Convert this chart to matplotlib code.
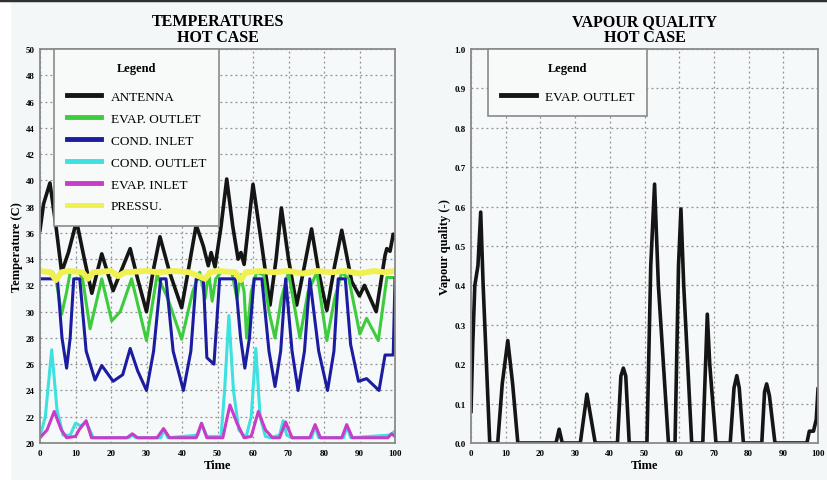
import matplotlib
matplotlib.use("Agg")
import matplotlib.pyplot as plt
from matplotlib.lines import Line2D
from matplotlib.patches import Rectangle
from matplotlib.ticker import MultipleLocator, FormatStrFormatter

# ---- temperatures, hot case (time, value) ----
antenna_t = [0, 1, 2.8, 4.5, 6.1, 8, 10.3, 12.5, 14.6, 17.4, 20.6, 23, 25.4, 27.5, 30, 31.8,
             33.8, 36.5, 39.9, 42, 44, 46, 47.4, 48.2, 49.3, 51, 52.6, 54.3, 55.8, 56.6, 57.5,
             60, 62.5, 64.8, 66.5, 68, 70, 72.3, 74.5, 76.5, 78.5, 80.8, 83, 85, 87.8, 90,
             91.4, 94.7, 97.2, 97.7, 98.6, 99.5, 100]
antenna_v = [36.2, 38.2, 39.8, 36.5, 33.0, 34.5, 36.9, 34.0, 31.4, 34.4, 31.6, 33.2, 34.8, 32.5,
             30.0, 33.0, 35.7, 33.0, 30.3, 33.5, 36.6, 35.0, 33.5, 34.5, 33.4, 36.5, 40.1, 36.5,
             34.0, 34.5, 33.6, 39.7, 35.0, 30.5, 34.0, 37.9, 34.0, 30.5, 33.5, 36.3, 33.0, 30.1,
             33.5, 36.2, 32.3, 31.2, 32.0, 30.0, 34.3, 34.8, 34.6, 35.9, 35.6]

evap_out_t = [0, 3.5, 4.5, 6.1, 7.5, 8.5, 11, 12, 14.1, 17.4, 20.2, 22.6, 25.8, 30, 33, 36,
              39.9, 43, 45, 46.5, 47.5, 48.5, 49.5, 51, 54, 55.5, 56.5, 57.5, 58.2, 59.5, 61,
              63, 64.5, 66.2, 68, 70, 73.2, 75.5, 78, 80.8, 83, 85, 87, 90.1, 92, 95.3, 97.7, 100]
evap_out_v = [33, 33, 32.5, 29.8, 31.5, 33, 33, 32.5, 28.7, 32.5, 29.3, 30.0, 32.5, 27.8, 32.8,
              31, 27.9, 31.5, 33, 31.0, 33, 30.8, 32.5, 33, 33, 31, 32.8, 31.5, 28, 31.5, 33,
              32.8, 30, 28, 31, 33, 28, 31.5, 33, 27.8, 31, 33, 32.5, 28.3, 29.5, 27.8, 32.6, 32.6]

cond_in_t = [0, 4.9, 6.2, 7.5, 8.5, 9.5, 11.2, 13, 15.5, 17.4, 20.6, 23.3, 25.4, 27.5, 30, 32,
             34, 35.5, 37.5, 40.4, 42.5, 44, 46, 47, 49, 50.6, 55, 56.5, 57.7, 59, 60.3, 62.5,
             64.5, 66.2, 67.8, 69.2, 71, 72.7, 74.5, 76, 78.5, 81, 82.8, 84, 86, 87.5, 89.7,
             92, 95.5, 97.2, 99.5, 100]
cond_in_v = [32.5, 32.5, 28, 25.7, 28, 32.5, 32.5, 27, 24.8, 25.9, 24.7, 25.2, 27.2, 25.5, 24.0,
             27, 32.5, 32.5, 27, 24.0, 27, 32.5, 32.5, 26.5, 26.0, 32.5, 32.5, 28, 25.7, 28,
             32.5, 32.5, 27, 24.3, 27, 32.5, 27, 24.0, 27, 32.5, 27, 24.0, 27, 32.5, 32.5, 27.5,
             24.7, 24.9, 24.0, 26.7, 26.7, 32.5]

cond_out_t = [0, 1.5, 3.3, 4.8, 6.5, 8.5, 10, 11.5, 13, 15, 25, 26, 27, 34, 35, 36, 44.5, 45.5,
              47, 51, 52, 53.2, 54.5, 56, 58, 59.5, 60.8, 62, 63.5, 65, 67.5, 68.5, 69.5, 71,
              76.5, 77.5, 78.5, 85.5, 86.5, 87.5, 98.5, 100]
cond_out_v = [20.5, 22, 27.1, 22.5, 20.6, 20.6, 21.5, 21.3, 21.6, 20.4, 20.4, 20.6, 20.4, 20.4,
              21, 20.4, 20.6, 21.5, 20.5, 20.5, 24, 29.7, 24, 21, 20.4, 22, 27.2, 22, 20.5, 20.4,
              20.6, 21.7, 20.6, 20.4, 20.4, 21.3, 20.4, 20.4, 21.3, 20.4, 20.6, 20.9]

evap_in_t = [0, 2, 4, 6, 7.5, 10, 11, 13, 14.5, 24.5, 26, 27.5, 33, 34.8, 36.5, 44, 45.5, 47,
             51.5, 53.5, 55.5, 57.5, 59.5, 61.5, 63.5, 65.5, 67.5, 69.2, 71, 76, 77.5, 79, 85,
             86.4, 88, 98, 99, 100]
evap_in_v = [20.4, 21.0, 22.4, 21.0, 20.4, 20.5, 21.0, 21.7, 20.4, 20.4, 20.7, 20.4, 20.4, 21.1,
             20.4, 20.4, 21.5, 20.4, 20.4, 22.9, 21.5, 20.4, 20.5, 22.4, 21.0, 20.4, 20.4, 21.6,
             20.4, 20.4, 21.4, 20.4, 20.4, 21.4, 20.4, 20.4, 20.7, 20.5]

pressu_t = [0, 3, 4.5, 6, 8, 12, 13.5, 15, 20, 22, 24, 30, 33, 38, 42, 46.5, 48, 50, 55, 56.5,
            58, 62, 66, 70, 74, 78, 82, 86, 90, 94, 97, 100]
pressu_v = [33.1, 33.0, 32.4, 33.0, 33.1, 33.0, 32.5, 33.0, 33.1, 32.7, 33.0, 33.1, 33.0, 33.1,
            33.0, 32.5, 33.0, 33.1, 33.0, 32.4, 33.0, 33.1, 33.0, 33.1, 32.9, 33.1, 33.0, 33.1,
            32.9, 33.1, 33.0, 33.1]

# ---- vapour quality, hot case ----
vq_t = [0, 0.5, 1.1, 2, 2.8, 3.5, 5.4, 7.7, 9, 10.6, 12, 13.5, 24.5, 25.4, 26.3, 31.5, 33.4,
        35.8, 42.2, 43.2, 43.9, 44.6, 45.6, 50.7, 51.8, 52.9, 54, 56.9, 58.8, 59.8, 60.5, 61.3,
        63.6, 66.8, 67.6, 68.1, 68.8, 70.6, 74.7, 75.8, 76.6, 77.3, 78.5, 83.8, 84.6, 85.2, 86,
        87.6, 96.8, 97.5, 98.7, 99.5, 100]
vq_v = [0.08, 0.25, 0.4, 0.45, 0.586, 0.4, 0.0, 0.0, 0.15, 0.26, 0.15, 0.0, 0.0, 0.035, 0.0,
        0.0, 0.124, 0.0, 0.0, 0.17, 0.19, 0.17, 0.0, 0.0, 0.45, 0.657, 0.4, 0.0, 0.0, 0.45,
        0.594, 0.4, 0.0, 0.0, 0.2, 0.327, 0.2, 0.0, 0.0, 0.14, 0.171, 0.14, 0.0, 0.0, 0.13,
        0.15, 0.12, 0.0, 0.0, 0.03, 0.03, 0.06, 0.137]

series = [
    (antenna_t, antenna_v, 'ANTENNA', '#151515'),
    (evap_out_t, evap_out_v, 'EVAP. OUTLET', '#3ccc3c'),
    (cond_in_t, cond_in_v, 'COND. INLET', '#1c1ca0'),
    (cond_out_t, cond_out_v, 'COND. OUTLET', '#3ee0e0'),
    (evap_in_t, evap_in_v, 'EVAP. INLET', '#c83cc8'),
    (pressu_t, pressu_v, 'PRESSU.', '#f0f050'),
]

serif = 'Liberation Serif'
bg = '#f3f7f7'

fig = plt.figure(figsize=(8.27, 4.81), dpi=100, facecolor=bg)
fig.add_artist(Rectangle((0, 0), 10 / 827, 1, transform=fig.transFigure, color='white', zorder=-1))
fig.add_artist(Line2D([0, 1], [0.997, 0.997], transform=fig.transFigure, color='#303030', lw=2.5))

ax1 = fig.add_axes([40 / 827, 1 - 444 / 481, 355 / 827, 394 / 481])
ax2 = fig.add_axes([471 / 827, 1 - 444 / 481, 347 / 827, 394 / 481])


def style_axes(ax):
    ax.set_facecolor('#f6f9f9')
    for s in ax.spines.values():
        s.set_color('#8a8a8a')
        s.set_linewidth(1.3)
    ax.grid(True, color='#909090', linestyle=(0, (1.5, 2.5)), linewidth=0.9)
    ax.tick_params(length=0, pad=4, labelsize=6.5)
    for lab in ax.get_xticklabels() + ax.get_yticklabels():
        lab.set_fontfamily(serif)
        lab.set_fontweight('bold')
    ax.set_xlim(0, 100)
    ax.xaxis.set_major_locator(MultipleLocator(10))


def style_legend(leg):
    leg.get_title().set_fontfamily(serif)
    leg.get_title().set_fontweight('bold')
    leg.get_title().set_fontsize(9)
    leg.get_frame().set_linewidth(1.2)
    leg._legend_box.sep = 12  # extra room under the title
    for h in leg.get_lines():
        h.set_linewidth(3.5)


leg_kw = dict(title='Legend', loc='upper left', borderaxespad=0,
              prop={'family': serif, 'size': 9.5}, handlelength=2.6, handletextpad=0.7,
              labelspacing=0.73, borderpad=1.0, fancybox=False, framealpha=1,
              edgecolor='#8a8a8a', facecolor='#f8fafa')
label_kw = dict(fontfamily=serif, fontweight='bold', fontsize=9)
title_kw = dict(fontfamily=serif, fontweight='bold', fontsize=11.5, linespacing=1.0, pad=6)

# Temperatures
for t, v, name, col in series:
    lw = 2.6 if name == 'ANTENNA' else (4.2 if name == 'PRESSU.' else 2.2)
    ax1.plot(t, v, color=col, lw=lw, label=name, solid_joinstyle='round')
ax1.set_ylim(20, 50)
ax1.yaxis.set_major_locator(MultipleLocator(2))
style_axes(ax1)
ax1.set_title('TEMPERATURES\nHOT CASE', **title_kw)
ax1.set_xlabel('Time', labelpad=2, **label_kw)
ax1.set_ylabel('Temperature (C)', labelpad=2, **label_kw)
leg1 = ax1.legend(bbox_to_anchor=(0.039, 1.0), **leg_kw)
style_legend(leg1)

# Vapour quality
ax2.plot(vq_t, vq_v, color='#151515', lw=2.6, label='EVAP. OUTLET', solid_joinstyle='round')
ax2.set_ylim(0, 1)
ax2.yaxis.set_major_locator(MultipleLocator(0.1))
ax2.yaxis.set_major_formatter(FormatStrFormatter('%.1f'))
style_axes(ax2)
ax2.set_title('VAPOUR QUALITY\nHOT CASE', **title_kw)
ax2.set_xlabel('Time', labelpad=2, **label_kw)
ax2.set_ylabel('Vapour quality (-)', labelpad=2, **label_kw)
leg2 = ax2.legend(bbox_to_anchor=(0.049, 1.0), **leg_kw)
style_legend(leg2)

fig.savefig('out.png', dpi=100, facecolor=bg)
